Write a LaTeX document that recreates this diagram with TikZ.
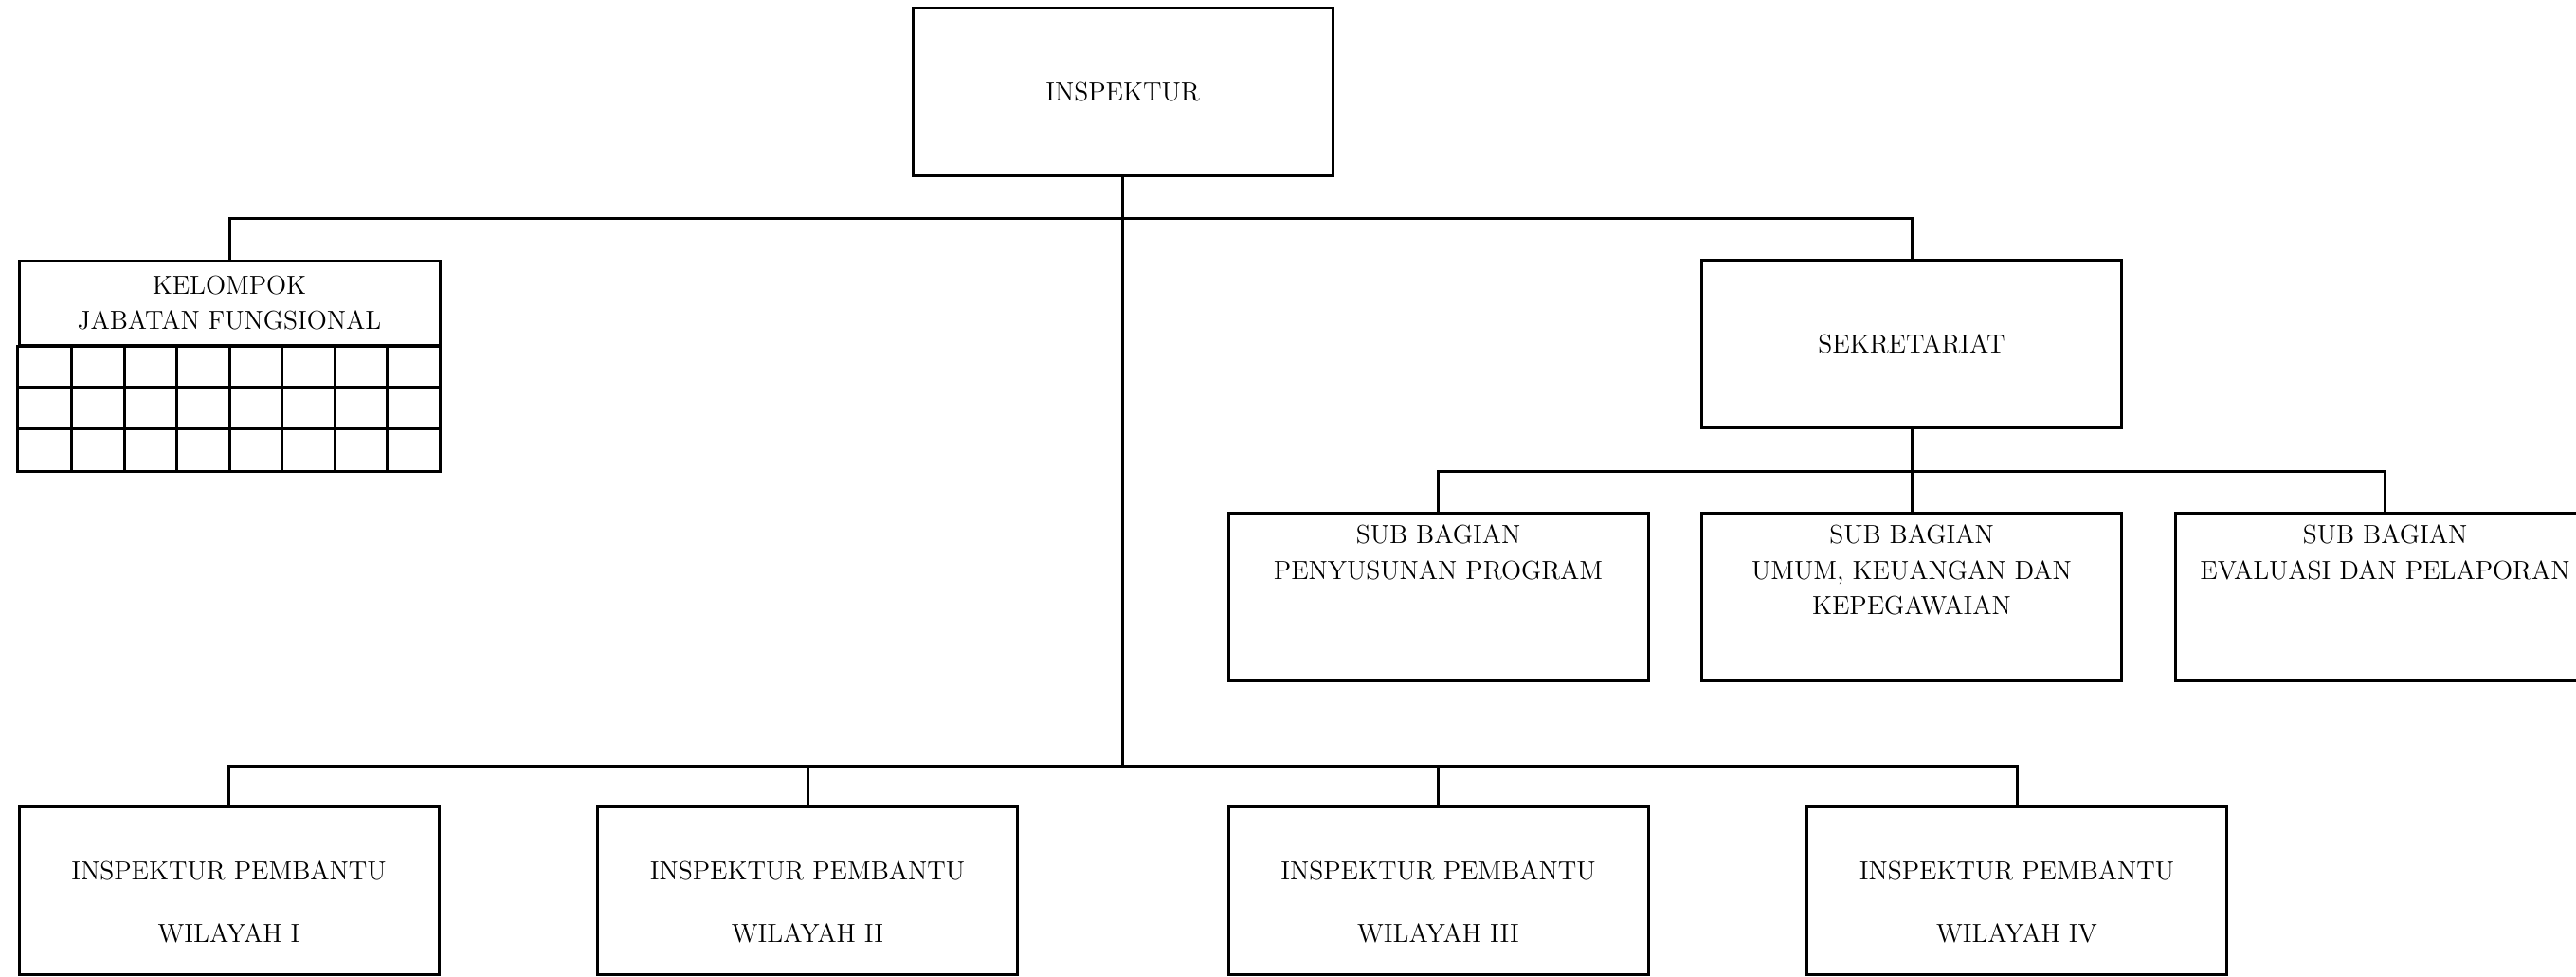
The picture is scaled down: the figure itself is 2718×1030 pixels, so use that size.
\documentclass[tikz,border=0pt]{standalone}
\usetikzlibrary{positioning}

\tikzset{every picture/.style={line width=1.5pt}}
\tikzset{
  unit/.style={draw, minimum width=221.5pt, minimum height=88.5pt, inner sep=0pt, align=center,
    font=\fontsize{13.8}{18.7}\selectfont},
  unithead/.style={unit, minimum width=222pt, minimum height=44.5pt},
  unittext/.style={inner sep=0pt, align=center, font=\fontsize{13.8}{18.7}\selectfont}
}

\begin{document}
\begin{tikzpicture}[x=0.5pt,y=0.5pt,yscale=-1,xscale=1]
	\useasboundingbox (0,0) rectangle (2718,1030);

	% Inspektur
	\node[unit] (insp) at (1184.5,97) {INSPEKTUR};

	% Kelompok jabatan fungsional
	\node[unithead] (kjf) at (242,319.5) {KELOMPOK\\JABATAN FUNGSIONAL};
	\draw (kjf.south west) rectangle (464,497);
	\foreach \c in {1,...,7}
		\draw (20+\c*55.5,364) -- (20+\c*55.5,497);
	\foreach \r in {408.3,452.7}
		\draw (20,\r) -- (464,\r);

	% Sekretariat
	\node[unit] (sekr) at (2017,363) {SEKRETARIAT};

	% Sub bagian
	\node[unit] (sbprog) at (1517.5,629.5) {};
	\node[unit] (sbumum) at (2017,629.5) {};
	\node[unit] (sbeval) at (2516.5,629.5) {};
	\node[unittext, anchor=north] (tprog) at ([yshift=6.5pt]sbprog.north) {SUB BAGIAN\\PENYUSUNAN PROGRAM};
	\node[unittext, anchor=north] (tumum) at ([yshift=6.5pt]sbumum.north) {SUB BAGIAN\\UMUM, KEUANGAN DAN\\KEPEGAWAIAN};
	\node[unittext, anchor=north] (teval) at ([yshift=6.5pt]sbeval.north) {SUB BAGIAN\\EVALUASI DAN PELAPORAN};

	% Inspektur pembantu
	\node[unit] (ipw1) at (241.5,939.5) {};
	\node[unit] (ipw2) at (852,939.5) {};
	\node[unit] (ipw3) at (1517.5,939.5) {};
	\node[unit] (ipw4) at (2128,939.5) {};
	\node[unittext] (tipw1) at ([yshift=6.25pt]ipw1.center) {INSPEKTUR PEMBANTU\\[14.3pt]WILAYAH I};
	\node[unittext] (tipw2) at ([yshift=6.25pt]ipw2.center) {INSPEKTUR PEMBANTU\\[14.3pt]WILAYAH II};
	\node[unittext] (tipw3) at ([yshift=6.25pt]ipw3.center) {INSPEKTUR PEMBANTU\\[14.3pt]WILAYAH III};
	\node[unittext] (tipw4) at ([yshift=6.25pt]ipw4.center) {INSPEKTUR PEMBANTU\\[14.3pt]WILAYAH IV};

	% Garis
	\coordinate (topbus) at (1184.5,230);
	\coordinate (subbus) at (2017,497);
	\coordinate (botbus) at (1184.5,808);
	\draw (insp.south) -- (botbus);
	\draw (kjf.north) |- (topbus) -| (sekr.north);
	\draw (sekr.south) -- (sbumum.north);
	\draw (sbprog.north) |- (subbus) -| (sbeval.north);
	\draw (ipw1.north) |- (botbus) -| (ipw4.north);
	\draw (ipw2.north) -- (ipw2.north |- botbus);
	\draw (ipw3.north) -- (ipw3.north |- botbus);

\end{tikzpicture}
\end{document}
